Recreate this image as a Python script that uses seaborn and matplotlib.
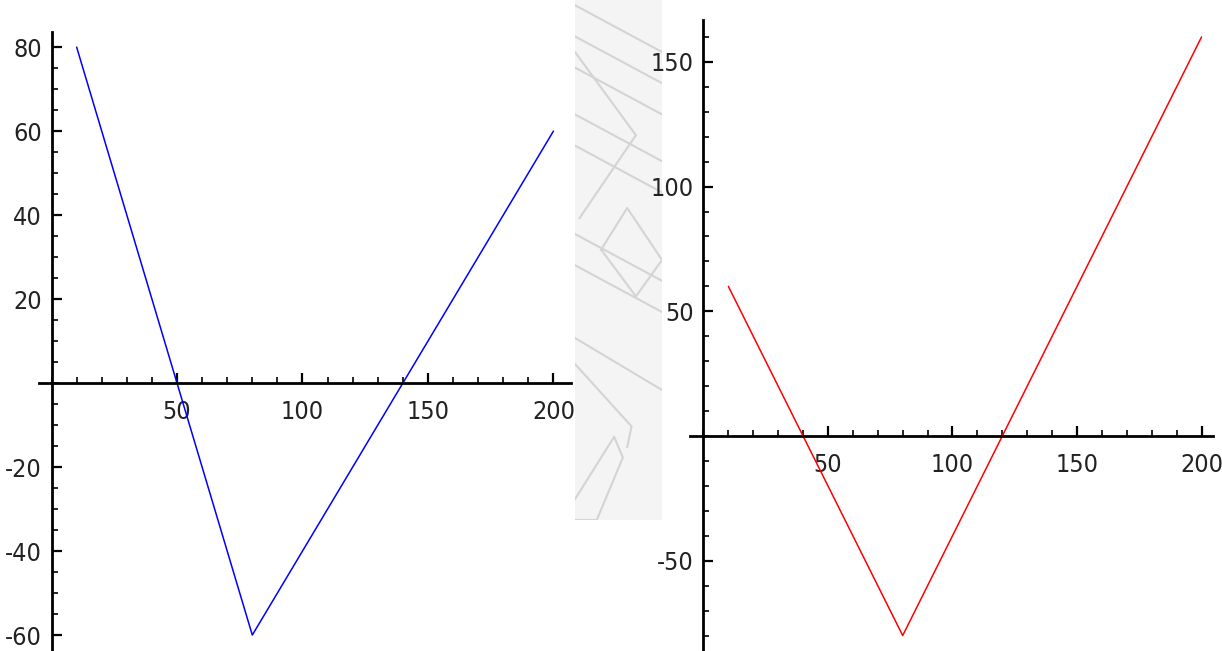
import numpy as np
import pandas as pd
import seaborn as sns
import matplotlib.pyplot as plt
from matplotlib.ticker import MultipleLocator, FixedLocator

# values
left_x = [10, 80, 200]
left_y = [80, -60, 60]
right_x = [10, 80, 200]
right_y = [60, -80, 160]

left_yticks = [-60, -40, -20, 20, 40, 60, 80]
right_yticks = [-50, 50, 100, 150]
xticks = [50, 100, 150, 200]

sns.set_style("white")
plt.rcParams["font.family"] = ["Liberation Sans Narrow", "DejaVu Sans"]
plt.rcParams["axes.unicode_minus"] = False

W, H = 1222, 651
fig = plt.figure(figsize=(W / 100, H / 100), dpi=100)


def px_axes(x0, x1, y0, y1):
    # pixel box (top-left origin) -> figure fraction
    return fig.add_axes([x0 / W, 1 - y1 / H, (x1 - x0) / W, (y1 - y0) / H])


# faint grey pattern between the plots
bg = px_axes(575, 662, 0, 520)
bg.set_facecolor("#f4f4f4")
bg.set_xlim(0, 1)
bg.set_ylim(0, 1)
for y0 in [0.99, 0.93, 0.87, 0.78, 0.72, 0.55, 0.49]:
    bg.plot([0, 1], [y0, y0 - 0.09], color="#d4d4d4", lw=1.5)
bg.plot([0.0, 0.7, 0.05], [0.9, 0.74, 0.58], color="#d4d4d4", lw=1.5)
bg.plot([0.3, 0.6, 1.0, 0.7, 0.3], [0.52, 0.6, 0.5, 0.43, 0.52], color="#d4d4d4", lw=1.5)
bg.plot([0.0, 1.0], [0.35, 0.25], color="#d4d4d4", lw=1.5)
bg.plot([0.0, 0.65, 0.6], [0.3, 0.18, 0.14], color="#d4d4d4", lw=1.5)
bg.plot([0.0, 0.45, 0.55, 0.25, 0.0], [0.04, 0.16, 0.12, 0.0, 0.0], color="#d4d4d4", lw=1.5)
bg.set_xticks([])
bg.set_yticks([])
for s in bg.spines.values():
    s.set_visible(False)


def style_axes(ax, xlim, ylim, yticks, yminor):
    ax.set_xlim(*xlim)
    ax.set_ylim(*ylim)
    ax.set_facecolor("none")
    for s in ["top", "right"]:
        ax.spines[s].set_visible(False)
    ax.spines["left"].set_position(("data", 0))
    ax.spines["bottom"].set_position(("data", 0))
    for s in ["left", "bottom"]:
        ax.spines[s].set_color("black")
        ax.spines[s].set_linewidth(2)
    ax.xaxis.set_major_locator(FixedLocator(xticks))
    ax.xaxis.set_minor_locator(MultipleLocator(10))
    ax.yaxis.set_major_locator(FixedLocator(yticks))
    ax.yaxis.set_minor_locator(MultipleLocator(yminor))
    ax.set_xticklabels([str(t) for t in xticks])
    ax.set_yticklabels([str(t) for t in yticks])
    ax.tick_params(which="both", bottom=True, left=True, top=False, right=False)
    ax.tick_params(which="major", direction="in", length=7, width=1.6, color="black",
                   labelsize=18, labelcolor="#222222")
    ax.tick_params(which="minor", direction="in", length=4, width=1.2, color="black")
    ax.tick_params(axis="x", which="major", pad=12)
    ax.tick_params(axis="y", which="major", pad=7)
    for lab in ax.get_xticklabels() + ax.get_yticklabels():
        lab.set_fontstretch("condensed")
    ax.set_xlabel("")
    ax.set_ylabel("")


# left plot
ax1 = px_axes(39, 571, 32, 651)
df1 = pd.DataFrame({"x": left_x, "y": left_y})
sns.lineplot(data=df1, x="x", y="y", ax=ax1, color="#0000ff", lw=1.1)
style_axes(ax1, (-5, 207), (-63.8, 83.6), left_yticks, 5)

# right plot
ax2 = px_axes(690, 1213, 20, 651)
df2 = pd.DataFrame({"x": right_x, "y": right_y})
sns.lineplot(data=df2, x="x", y="y", ax=ax2, color="#ff0000", lw=1.1)
style_axes(ax2, (-5.4, 204.6), (-86.2, 166.8), right_yticks, 10)

fig.savefig("out.png", dpi=100)
